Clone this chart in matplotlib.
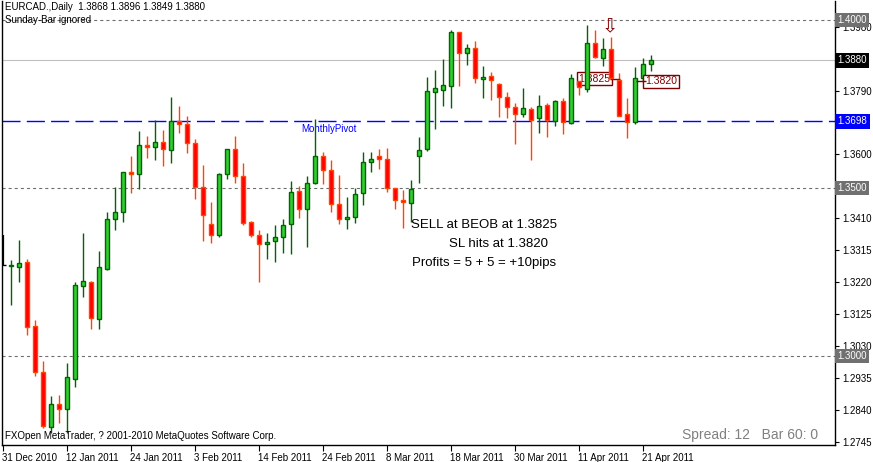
import matplotlib
matplotlib.use('Agg')
import matplotlib.pyplot as plt
import matplotlib.transforms as mtransforms

# EURCAD daily candles, 31 Dec 2010 .. 22 Apr 2011
opens = [1.3271, 1.3267, 1.3266, 1.3279, 1.3088, 1.2951, 1.2788, 1.2857, 1.2841, 1.2932,
         1.3209, 1.3219, 1.3111, 1.3259, 1.3407, 1.3428, 1.3548, 1.3541, 1.3627, 1.3623,
         1.3636, 1.3612, 1.3699, 1.3690, 1.3633, 1.3504, 1.3392, 1.3359, 1.3541, 1.3615,
         1.3535, 1.3398, 1.3359, 1.3332, 1.3341, 1.3353, 1.3392, 1.3490, 1.3437, 1.3516,
         1.3594, 1.3555, 1.3452, 1.3407, 1.3415, 1.3484, 1.3577, 1.3594, 1.3585, 1.3499,
         1.3464, 1.3454, 1.3596, 1.3615, 1.3787, 1.3793, 1.3805, 1.3963, 1.3901, 1.3916,
         1.3824, 1.3832, 1.3809, 1.3770, 1.3740, 1.3719, 1.3734, 1.3707, 1.3746, 1.3699,
         1.3759, 1.3693, 1.3818, 1.3795, 1.3931, 1.3888, 1.3914, 1.3820, 1.3720, 1.3697,
         1.3827, 1.3868]
highs = [1.3360, 1.3286, 1.3345, 1.3289, 1.3107, 1.2985, 1.2881, 1.2884, 1.2978, 1.3221,
         1.3365, 1.3222, 1.3313, 1.3428, 1.3502, 1.3548, 1.3595, 1.3670, 1.3655, 1.3702,
         1.3673, 1.3771, 1.3744, 1.3714, 1.3646, 1.3569, 1.3458, 1.3544, 1.3616, 1.3655,
         1.3575, 1.3402, 1.3375, 1.3365, 1.3389, 1.3408, 1.3520, 1.3506, 1.3536, 1.3705,
         1.3606, 1.3582, 1.3539, 1.3473, 1.3499, 1.3606, 1.3606, 1.3615, 1.3618, 1.3500,
         1.3493, 1.3523, 1.3653, 1.3831, 1.3851, 1.3884, 1.3970, 1.3964, 1.3929, 1.3938,
         1.3863, 1.3845, 1.3813, 1.3786, 1.3754, 1.3797, 1.3740, 1.3777, 1.3752, 1.3761,
         1.3767, 1.3838, 1.3827, 1.3985, 1.3970, 1.3947, 1.3950, 1.3841, 1.3767, 1.3861,
         1.3886, 1.3896]
lows = [1.3268, 1.3153, 1.3221, 1.3062, 1.2941, 1.2787, 1.2771, 1.2802, 1.2770, 1.2909,
        1.3177, 1.3081, 1.3081, 1.3256, 1.3375, 1.3400, 1.3486, 1.3497, 1.3590, 1.3583,
        1.3566, 1.3575, 1.3665, 1.3603, 1.3468, 1.3343, 1.3337, 1.3353, 1.3526, 1.3516,
        1.3391, 1.3353, 1.3221, 1.3288, 1.3281, 1.3307, 1.3303, 1.3412, 1.3325, 1.3511,
        1.3513, 1.3429, 1.3394, 1.3379, 1.3397, 1.3449, 1.3547, 1.3556, 1.3487, 1.3438,
        1.3382, 1.3400, 1.3514, 1.3611, 1.3676, 1.3745, 1.3739, 1.3805, 1.3867, 1.3813,
        1.3769, 1.3762, 1.3712, 1.3709, 1.3631, 1.3710, 1.3583, 1.3665, 1.3653, 1.3685,
        1.3660, 1.3690, 1.3777, 1.3787, 1.3888, 1.3864, 1.3826, 1.3713, 1.3650, 1.3690,
        1.3816, 1.3849]
closes = [1.3271, 1.3271, 1.3276, 1.3087, 1.2951, 1.2792, 1.2857, 1.2841, 1.2938, 1.3210,
          1.3223, 1.3112, 1.3264, 1.3408, 1.3428, 1.3547, 1.3541, 1.3627, 1.3621, 1.3636,
          1.3615, 1.3699, 1.3690, 1.3633, 1.3504, 1.3419, 1.3359, 1.3541, 1.3615, 1.3535,
          1.3395, 1.3359, 1.3332, 1.3338, 1.3353, 1.3389, 1.3487, 1.3437, 1.3514, 1.3594,
          1.3555, 1.3452, 1.3407, 1.3413, 1.3481, 1.3577, 1.3585, 1.3585, 1.3499, 1.3463,
          1.3457, 1.3496, 1.3612, 1.3789, 1.3797, 1.3807, 1.3963, 1.3901, 1.3916, 1.3827,
          1.3830, 1.3821, 1.3770, 1.3740, 1.3719, 1.3737, 1.3701, 1.3743, 1.3701, 1.3758,
          1.3696, 1.3827, 1.3800, 1.3931, 1.3889, 1.3914, 1.3828, 1.3714, 1.3697, 1.3827,
          1.3868, 1.3880]

date_labels = ['31 Dec 2010', '12 Jan 2011', '24 Jan 2011', '3 Feb 2011', '14 Feb 2011',
               '24 Feb 2011', '8 Mar 2011', '18 Mar 2011', '30 Mar 2011', '11 Apr 2011',
               '21 Apr 2011']
price_ticks = [1.2745, 1.2840, 1.2935, 1.3030, 1.3125, 1.3220, 1.3315, 1.3410,
               1.3505, 1.3600, 1.3695, 1.3790, 1.3885, 1.3980]
hidden_ticks = [1.3505, 1.3695, 1.3885]   # covered by the price boxes
round_levels = [1.4000, 1.3500, 1.3000]
monthly_pivot = 1.3698
bid = 1.3880
sell_price = 1.3825
sl_price = 1.3820

W, H = 873, 462
fig = plt.figure(figsize=(W / 100, H / 100), dpi=100)
plt.rcParams['font.family'] = ['Liberation Sans', 'DejaVu Sans']
plt.rcParams['lines.scale_dashes'] = False
ax = fig.add_axes([2 / W, 1 - 445 / H, 833 / W, 444 / H])
ax.set_xlim(-0.125, 104)
ax.set_ylim(1.273512, 1.405655)

# horizontal levels
for lv in round_levels:
    ax.axhline(lv, color='#6e6e6e', lw=0.8, ls=(0, (2.2, 2.2)), zorder=1)
ax.axhline(bid, color='#c0c0c0', lw=0.8, zorder=1)
ax.axhline(monthly_pivot, color='#0000ff', lw=1.0, ls=(0, (13, 4.5)), zorder=1)
ax.text(37.25, 1.3676, 'MonthlyPivot', color='#0000ff', fontsize=7, va='center', ha='left')

# candles
n = len(opens)
for i in range(n):
    o, h, l, c = opens[i], highs[i], lows[i], closes[i]
    if i == 0:
        # first bar is clipped at the left edge, only its stick shows
        ax.vlines(i, l, h, color='black', lw=1.6, zorder=3)
        ax.hlines(c, i, i + 0.35, color='black', lw=1.0, zorder=3)
        continue
    up = c >= o
    wick = '#006400' if up else '#ff4500'
    fill = '#32cd32' if up else '#ff0000'
    ax.vlines(i, l, h, color=wick, lw=1.0, zorder=3)
    bot = min(o, c)
    ht = max(abs(c - o), 0.00006)
    ax.bar(i, ht, bottom=bot, width=0.56, color=fill, edgecolor=wick, lw=1.0, zorder=4)

# trade labels
ax.text(73.95, sell_price, '1.3825', color='#800000', fontsize=7.5, ha='center', va='center',
        bbox=dict(boxstyle='square,pad=0.15', fc='white', ec='#800000', lw=1), zorder=3.5)
ax.hlines(sell_price, 75.9, 77.1, color='#800000', lw=1, zorder=3.5)
ax.text(82.25, sl_price - 0.0002, '1.3820', color='#800000', fontsize=7.5, ha='center', va='center',
        bbox=dict(boxstyle='square,pad=0.15', fc='white', ec='#800000', lw=1), zorder=5)
ax.hlines(sl_price - 0.0002, 79.1, 80.4, color='#800000', lw=1, zorder=5)
ax.text(75.8, highs[76] + 0.0002, '\u21e9', color='#800000', fontsize=14, ha='center',
        va='bottom', family='DejaVu Sans', zorder=5)

ax.text(60.1, 1.3390, 'SELL at BEOB at 1.3825', fontsize=9.5, ha='center', va='center')
ax.text(62.0, 1.3333, 'SL hits at 1.3820', fontsize=9.5, ha='center', va='center')
ax.text(60.1, 1.3277, 'Profits = 5 + 5 = +10pips', fontsize=9.5, ha='center', va='center')

# axes styling
ax.spines['top'].set_visible(False)
for s in ['left', 'right', 'bottom']:
    ax.spines[s].set_color('black')
    ax.spines[s].set_linewidth(1.0)
ax.yaxis.tick_right()
ax.set_yticks(price_ticks)
ax.set_yticklabels(['' if p in hidden_ticks else '%.4f' % p for p in price_ticks])
ax.tick_params(axis='y', direction='out', length=3, pad=2, labelsize=7, width=0.8)
ax.set_xticks(range(0, 8 * len(date_labels), 8))
ax.set_xticklabels(date_labels, ha='left')
ax.tick_params(axis='x', direction='out', length=4, pad=2, labelsize=7, width=0.8)
offset = mtransforms.ScaledTranslation(-1 / 100, 0, fig.dpi_scale_trans)
for lbl in ax.get_xticklabels():
    lbl.set_transform(lbl.get_transform() + offset)

# right-hand price boxes
trans = mtransforms.blended_transform_factory(ax.transAxes, ax.transData)
boxes = [(1.4000, '#707070'), (bid, 'black'), (monthly_pivot, '#0000ff'),
         (1.3500, '#707070'), (1.3000, '#707070')]
for p, col in boxes:
    ax.text(1.003, p, '%.4f' % p, transform=trans, color='white', fontsize=7, ha='left',
            va='center', clip_on=False, zorder=6,
            bbox=dict(boxstyle='square,pad=0.25', fc=col, ec='none'))

# header / footer texts
fig.text(5 / W, 1 - 7 / H, 'EURCAD.,Daily  1.3868 1.3896 1.3849 1.3880', fontsize=7, va='center')
fig.text(5 / W, 1 - 20 / H, 'Sunday-Bar ignored', fontsize=7, va='center')
fig.text(5 / W, 1 - 436 / H, 'FXOpen MetaTrader, ? 2001-2010 MetaQuotes Software Corp.',
         fontsize=7, va='center')
fig.text(818 / W, 1 - 435 / H, 'Spread: 12   Bar 60: 0', fontsize=10, color='#808080',
         ha='right', va='center')

fig.savefig('out.png', dpi=100)
